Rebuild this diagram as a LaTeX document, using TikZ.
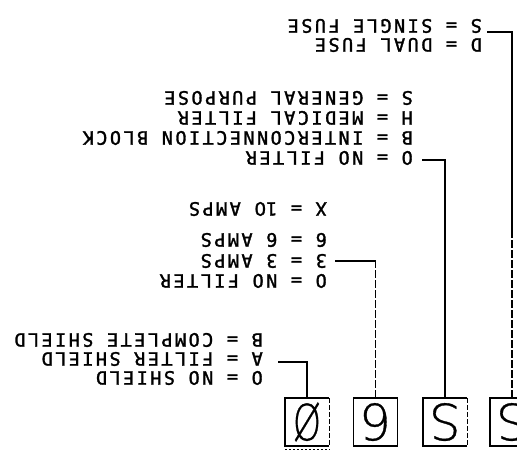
\documentclass[tikz,border=0pt]{standalone}
\usepackage{fontspec}
\newfontfamily\cadfont[LetterSpace=13.3,FakeBold=1.6]{DejaVu Sans Mono}
\newfontfamily\cadzero[LetterSpace=8,FakeBold=1.6]{DejaVu Sans}
\newfontfamily\thinfont[FakeBold=0.6]{DejaVu Sans ExtraLight}
\begin{document}
\begin{tikzpicture}[x=1pt,y=-1pt,
  lbl/.style={rotate=180,anchor=west,inner sep=0pt,
    font=\cadfont\fontsize{18.5}{18.5}\selectfont,text height=13.5pt,text depth=0pt},
  codebox/.style={minimum width=44pt,minimum height=48pt,inner sep=0pt,
    font=\thinfont\fontsize{50}{50}\selectfont},
  conn/.style={line width=1.4pt},
  dconn/.style={line width=1.3pt,dash pattern=on 8pt off 2pt},
  boxedge/.style={line width=1.5pt},
  dboxedge/.style={line width=1.3pt,dash pattern=on 5pt off 2pt},
  speck/.style={line width=0.9pt,dash pattern=on 2pt off 2pt}]
\useasboundingbox (0,0) rectangle (517,459);
% labels group 1
\node[lbl] (g1a) at (482,26) {S = SINGLE FUSE};
\node[lbl] (g1b) at (482,45) {D = DUAL FUSE};
% group 2
\node[lbl] (g2a) at (413,98) {S = GENERAL PURPOSE};
\node[lbl] (g2b) at (413,118) {H = MEDICAL FILTER};
\node[lbl] (g2c) at (413,138) {B = INTERCONNECTION BLOCK};
\node[lbl] (g2d) at (413,158) {O = NO FILTER};
% group 3
\node[lbl] (g3a) at (327,209) {X = 1{\cadzero 0} AMPS};
\node[lbl] (g3b) at (327,240) {6 = 6 AMPS};
\node[lbl] (g3c) at (327,261) {3 = 3 AMPS};
\node[lbl] (g3d) at (327,281) {O = NO FILTER};
% group 4
\node[lbl] (g4a) at (263,340) {B = COMPLETE SHIELD};
\node[lbl] (g4b) at (263,359) {A = FILTER SHIELD};
\node[lbl] (g4c) at (263,378) {O = NO SHIELD};
% code boxes
\node[codebox] (b1) at (307,422) {\rotatebox[origin=c]{180}{\scalebox{0.72}[1]{Ø}}};
\node[codebox] (b2) at (375.5,422) {\rotatebox[origin=c]{180}{6}};
\node[codebox] (b3) at (445,422) {\rotatebox[origin=c]{180}{S}};
\node[codebox] (b4) at (512,422) {\rotatebox[origin=c]{180}{S}};
% box outlines
\draw[boxedge] (b1.north east) -- (b1.north west) -- (b1.south west) -- (b1.south east);
\draw[dboxedge] (b1.north east) -- (b1.south east);
\draw[speck] ([yshift=-3pt]b1.south west) -- ([yshift=-3pt]b1.south east);
\draw[boxedge] (b2.north west) rectangle (b2.south east);
\draw[boxedge] (b3.north east) -- (b3.north west) -- (b3.south west) -- (b3.south east);
\draw[dboxedge] (b3.north east) -- (b3.south east);
\draw[boxedge] (b4.north east) -- (b4.north west) -- (b4.south west) -- (b4.south east);
% connectors
\draw[conn] (b1.north) |- ([xshift=15pt,yshift=-3pt]g4b.west);
\coordinate (k2) at (b2.north |- g3c.west);
\draw[dconn] (b2.north) -- (k2);
\draw[conn] (k2) -- ([xshift=8pt]g3c.west);
\draw[conn] (b3.north) |- ([xshift=9pt,yshift=-2pt]g2d.west);
\coordinate (k4) at ([yshift=165pt]b4.north);
\draw[dconn] (b4.north) -- (k4);
\draw[conn] (k4) |- ([xshift=5pt,yshift=-6pt]g1a.west);
\end{tikzpicture}
\end{document}
